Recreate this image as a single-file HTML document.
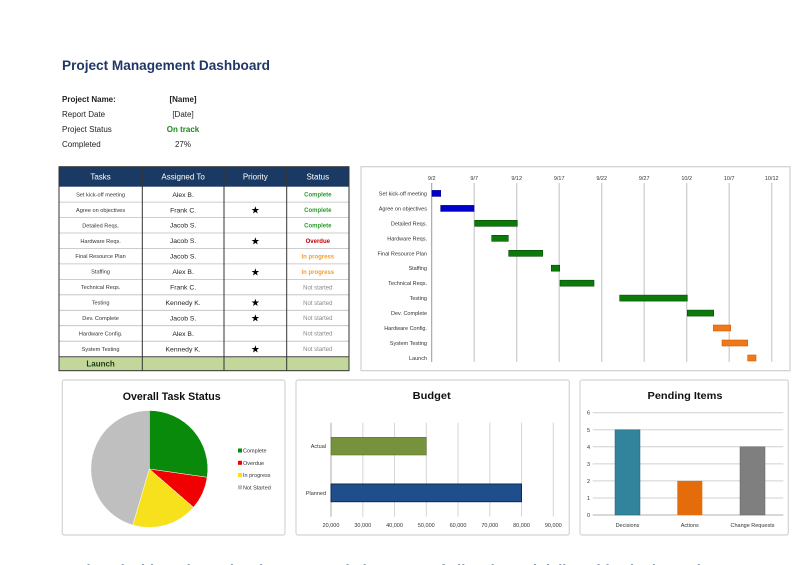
<!DOCTYPE html>
<html><head><meta charset="utf-8"><style>
html,body{margin:0;padding:0;background:#fff;}
svg{display:block;font-family:"Liberation Sans",sans-serif;}
</style></head><body>
<svg width="800" height="565" viewBox="0 0 800 565" xmlns="http://www.w3.org/2000/svg">
<rect width="800" height="565" fill="#fff"/>
<!-- Title -->
<text x="62" y="70" font-size="13.5" font-weight="bold" fill="#1f3864" textLength="208" lengthAdjust="spacingAndGlyphs">Project Management Dashboard</text>
<g font-size="8" fill="#222">
<text x="62" y="102" font-weight="bold">Project Name:</text>
<text x="62" y="117">Report Date</text>
<text x="62" y="132">Project Status</text>
<text x="62" y="147">Completed</text>
<g text-anchor="middle">
<text x="183" y="102" font-weight="bold">[Name]</text>
<text x="183" y="117">[Date]</text>
<text x="183" y="132" font-weight="bold" fill="#1e8a1e">On track</text>
<text x="183" y="147">27%</text>
</g></g>

<!-- Table -->
<rect x="59" y="166.7" width="290" height="20" fill="#1b3a63"/>
<rect x="59" y="356.7" width="290" height="14" fill="#c4d79b"/>
<g stroke="#bdbdbd" stroke-width="0.8">
<line x1="59" x2="349" y1="202.1" y2="202.1"/><line x1="59" x2="349" y1="217.6" y2="217.6"/>
<line x1="59" x2="349" y1="233" y2="233"/><line x1="59" x2="349" y1="248.5" y2="248.5"/>
<line x1="59" x2="349" y1="263.9" y2="263.9"/><line x1="59" x2="349" y1="279.4" y2="279.4"/>
<line x1="59" x2="349" y1="294.8" y2="294.8"/><line x1="59" x2="349" y1="310.3" y2="310.3"/>
<line x1="59" x2="349" y1="325.7" y2="325.7"/><line x1="59" x2="349" y1="341.2" y2="341.2"/>
</g>
<line x1="59" x2="349" y1="356.7" y2="356.7" stroke="#444" stroke-width="1"/>
<g stroke="#333" stroke-width="1" fill="none">
<rect x="59" y="166.7" width="290" height="204"/>
<line x1="142.3" x2="142.3" y1="166.7" y2="370.7"/>
<line x1="224" x2="224" y1="166.7" y2="370.7"/>
<line x1="286.7" x2="286.7" y1="166.7" y2="370.7"/>
</g>
<g font-size="8" fill="#fff" text-anchor="middle">
<text x="100.6" y="179.5">Tasks</text><text x="183.1" y="179.5">Assigned To</text>
<text x="255.3" y="179.5">Priority</text><text x="317.8" y="179.5">Status</text>
</g>
<g font-size="5.6" fill="#333" text-anchor="middle">
<text x="100.6" y="196.4">Set kick-off meeting</text>
<text x="100.6" y="211.9">Agree on objectives</text>
<text x="100.6" y="227.3">Detailed Reqs.</text>
<text x="100.6" y="242.8">Hardware Reqs.</text>
<text x="100.6" y="258.2">Final Resource Plan</text>
<text x="100.6" y="273.7">Staffing</text>
<text x="100.6" y="289.1">Technical Reqs.</text>
<text x="100.6" y="304.6">Testing</text>
<text x="100.6" y="320">Dev. Complete</text>
<text x="100.6" y="335.5">Hardware Config.</text>
<text x="100.6" y="350.9">System Testing</text>
</g>
<g font-size="6.8" fill="#222" text-anchor="middle">
<text x="183.1" y="196.8">Alex B.</text><text x="183.1" y="212.3">Frank C.</text>
<text x="183.1" y="227.7">Jacob S.</text><text x="183.1" y="243.2">Jacob S.</text>
<text x="183.1" y="258.6">Jacob S.</text><text x="183.1" y="274.1">Alex B.</text>
<text x="183.1" y="289.5">Frank C.</text><text x="183.1" y="305">Kennedy K.</text>
<text x="183.1" y="320.4">Jacob S.</text><text x="183.1" y="335.9">Alex B.</text>
<text x="183.1" y="351.3">Kennedy K.</text>
</g>
<g font-size="10" fill="#000" text-anchor="middle">
<text x="255.3" y="213.5">★</text><text x="255.3" y="244.4">★</text>
<text x="255.3" y="275.3">★</text><text x="255.3" y="306.2">★</text>
<text x="255.3" y="321.6">★</text><text x="255.3" y="352.5">★</text>
</g>
<g font-size="6" font-weight="bold" text-anchor="middle">
<text x="317.8" y="196.6" fill="#2e9a2e">Complete</text>
<text x="317.8" y="212.1" fill="#2e9a2e">Complete</text>
<text x="317.8" y="227.5" fill="#2e9a2e">Complete</text>
<text x="317.8" y="243" fill="#c00000">Overdue</text>
<text x="317.8" y="258.4" fill="#f0a030">In progress</text>
<text x="317.8" y="273.9" fill="#f0a030">In progress</text>
</g>
<g font-size="6" fill="#888" text-anchor="middle">
<text x="317.8" y="289.3">Not started</text><text x="317.8" y="304.8">Not started</text>
<text x="317.8" y="320.2">Not started</text><text x="317.8" y="335.7">Not started</text>
<text x="317.8" y="351.1">Not started</text>
</g>
<text x="100.6" y="366.5" font-size="8" font-weight="bold" fill="#1a3a10" text-anchor="middle">Launch</text>

<!-- Gantt panel -->
<rect x="361" y="166.7" width="429" height="204" fill="#fff" stroke="#d0d0d0" stroke-width="1.2"/>
<g stroke="#cfcfcf" stroke-width="1.3">
<line x1="474.2" x2="474.2" y1="183" y2="362"/><line x1="516.7" x2="516.7" y1="183" y2="362"/>
<line x1="559.2" x2="559.2" y1="183" y2="362"/><line x1="601.7" x2="601.7" y1="183" y2="362"/>
<line x1="644.2" x2="644.2" y1="183" y2="362"/><line x1="686.7" x2="686.7" y1="183" y2="362"/>
<line x1="729.2" x2="729.2" y1="183" y2="362"/><line x1="771.7" x2="771.7" y1="183" y2="362"/>
</g>
<line x1="431.7" x2="431.7" y1="183" y2="362" stroke="#999" stroke-width="1"/>
<g font-size="5.5" fill="#333" text-anchor="middle">
<text x="431.7" y="180">9/2</text><text x="474.2" y="180">9/7</text><text x="516.7" y="180">9/12</text>
<text x="559.2" y="180">9/17</text><text x="601.7" y="180">9/22</text><text x="644.2" y="180">9/27</text>
<text x="686.7" y="180">10/2</text><text x="729.2" y="180">10/7</text><text x="771.7" y="180">10/12</text>
</g>
<g font-size="5.5" fill="#333" text-anchor="end">
<text x="427" y="195.4">Set kick-off meeting</text>
<text x="427" y="210.4">Agree on objectives</text>
<text x="427" y="225.3">Detailed Reqs.</text>
<text x="427" y="240.3">Hardware Reqs.</text>
<text x="427" y="255.3">Final Resource Plan</text>
<text x="427" y="270.2">Staffing</text>
<text x="427" y="285.2">Technical Reqs.</text>
<text x="427" y="300.1">Testing</text>
<text x="427" y="315.1">Dev. Complete</text>
<text x="427" y="330">Hardware Config.</text>
<text x="427" y="345">System Testing</text>
<text x="427" y="360">Launch</text>
</g>
<g stroke-width="0.6">
<rect x="432" y="190.4" width="8.7" height="6" fill="#0000cc" stroke="#00008a"/>
<rect x="440.7" y="205.4" width="33.3" height="6" fill="#0000cc" stroke="#00008a"/>
<rect x="474.7" y="220.3" width="42.6" height="6" fill="#0b7a0b" stroke="#054d05"/>
<rect x="491.7" y="235.3" width="16.6" height="6" fill="#0b7a0b" stroke="#054d05"/>
<rect x="508.7" y="250.3" width="34" height="6" fill="#0b7a0b" stroke="#054d05"/>
<rect x="551.3" y="265.2" width="8.4" height="6" fill="#0b7a0b" stroke="#054d05"/>
<rect x="560" y="280.2" width="34" height="6" fill="#0b7a0b" stroke="#054d05"/>
<rect x="619.7" y="295.1" width="67.6" height="6" fill="#0b7a0b" stroke="#054d05"/>
<rect x="687.3" y="310.1" width="26.4" height="6" fill="#0b7a0b" stroke="#054d05"/>
<rect x="713.3" y="325" width="17.4" height="6" fill="#f07818" stroke="#d06010"/>
<rect x="722" y="340" width="25.7" height="6" fill="#f07818" stroke="#d06010"/>
<rect x="747.7" y="355" width="8.3" height="6" fill="#f07818" stroke="#d06010"/>
</g>

<!-- Pie panel -->
<rect x="62.3" y="380" width="222.7" height="155" rx="2" fill="#fff" stroke="#d4d4d4" stroke-width="1.2"/>
<text x="171.7" y="400" font-size="11" font-weight="bold" fill="#111" text-anchor="middle" textLength="98" lengthAdjust="spacingAndGlyphs">Overall Task Status</text>
<g stroke="#fff" stroke-width="0.5">
<path d="M149.3,469 L149.3,410.5 A58.5,58.5 0 0 1 207.2,477.3 Z" fill="#0a8a0a"/>
<path d="M149.3,469 L207.2,477.3 A58.5,58.5 0 0 1 193.5,507.3 Z" fill="#f00000"/>
<path d="M149.3,469 L193.5,507.3 A58.5,58.5 0 0 1 132.8,525.1 Z" fill="#f6e11c"/>
<path d="M149.3,469 L132.8,525.1 A58.5,58.5 0 0 1 149.3,410.5 Z" fill="#bfbfbf"/>
</g>
<rect x="238" y="448.5" width="4" height="4" fill="#0a8a0a"/>
<rect x="238" y="460.8" width="4" height="4" fill="#f00000"/>
<rect x="238" y="473" width="4" height="4" fill="#f6e11c"/>
<rect x="238" y="485.3" width="4" height="4" fill="#bfbfbf"/>
<g font-size="5.5" fill="#333">
<text x="243" y="452.6">Complete</text><text x="243" y="464.9">Overdue</text>
<text x="243" y="477.1">In progress</text><text x="243" y="489.4">Not Started</text>
</g>

<!-- Budget panel -->
<rect x="296" y="380" width="273.3" height="155" rx="2" fill="#fff" stroke="#d4d4d4" stroke-width="1.2"/>
<text x="431.7" y="399" font-size="10.5" font-weight="bold" fill="#111" text-anchor="middle" textLength="38" lengthAdjust="spacingAndGlyphs">Budget</text>
<g stroke="#d6d6d6" stroke-width="1">
<line x1="362.8" x2="362.8" y1="422.7" y2="516.7"/><line x1="394.5" x2="394.5" y1="422.7" y2="516.7"/>
<line x1="426.3" x2="426.3" y1="422.7" y2="516.7"/><line x1="458" x2="458" y1="422.7" y2="516.7"/>
<line x1="489.8" x2="489.8" y1="422.7" y2="516.7"/><line x1="521.5" x2="521.5" y1="422.7" y2="516.7"/>
<line x1="553.3" x2="553.3" y1="422.7" y2="516.7"/>
</g>
<line x1="331" x2="331" y1="422.7" y2="516.7" stroke="#999" stroke-width="0.8"/>
<rect x="331" y="437.3" width="95.3" height="17.7" fill="#76923c" stroke="#5f7a2c" stroke-width="0.6"/>
<rect x="331" y="484" width="190.5" height="17.7" fill="#1f4e8c" stroke="#0f2a50" stroke-width="1"/>
<g font-size="5.5" fill="#333" text-anchor="end">
<text x="326" y="448">Actual</text><text x="326" y="494.8">Planned</text>
</g>
<g font-size="5.5" fill="#333" text-anchor="middle">
<text x="331" y="527">20,000</text><text x="362.8" y="527">30,000</text><text x="394.5" y="527">40,000</text>
<text x="426.3" y="527">50,000</text><text x="458" y="527">60,000</text><text x="489.8" y="527">70,000</text>
<text x="521.5" y="527">80,000</text><text x="553.3" y="527">90,000</text>
</g>

<!-- Pending panel -->
<rect x="580" y="380" width="208.3" height="155" rx="2" fill="#fff" stroke="#d4d4d4" stroke-width="1.2"/>
<text x="685" y="399" font-size="10.5" font-weight="bold" fill="#111" text-anchor="middle" textLength="75" lengthAdjust="spacingAndGlyphs">Pending Items</text>
<g stroke="#d0d0d0" stroke-width="1">
<line x1="592.7" x2="783.3" y1="412.7" y2="412.7"/><line x1="592.7" x2="783.3" y1="429.8" y2="429.8"/>
<line x1="592.7" x2="783.3" y1="446.8" y2="446.8"/><line x1="592.7" x2="783.3" y1="463.9" y2="463.9"/>
<line x1="592.7" x2="783.3" y1="480.9" y2="480.9"/><line x1="592.7" x2="783.3" y1="498" y2="498"/>
</g>
<line x1="592.7" x2="783.3" y1="515" y2="515" stroke="#999" stroke-width="0.8"/>
<g font-size="5.5" fill="#333" text-anchor="end">
<text x="590" y="414.7">6</text><text x="590" y="431.8">5</text><text x="590" y="448.8">4</text>
<text x="590" y="465.9">3</text><text x="590" y="482.9">2</text><text x="590" y="500">1</text><text x="590" y="517">0</text>
</g>
<rect x="615" y="429.8" width="25" height="85.2" fill="#31849b" stroke="#21607a" stroke-width="0.5"/>
<rect x="677.3" y="480.9" width="25" height="34.1" fill="#e46c0a"/>
<rect x="740" y="446.8" width="25" height="68.2" fill="#7f7f7f" stroke="#666" stroke-width="0.5"/>
<g font-size="5.5" fill="#333" text-anchor="middle">
<text x="627.5" y="527">Decisions</text><text x="689.8" y="527">Actions</text><text x="752.5" y="527">Change Requests</text>
</g>

<!-- Cut-off bottom text -->
<text x="62" y="576" font-size="16" font-weight="bold" fill="#1f3864" textLength="660" lengthAdjust="spacingAndGlyphs">Project dashboard template lets you track the status of all tasks and deliverables in the project</text>
</svg>
</body></html>
